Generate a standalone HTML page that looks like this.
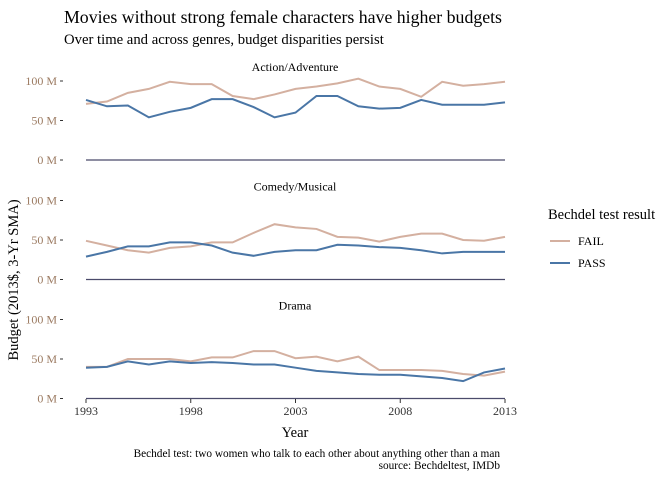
<!DOCTYPE html>
<html><head><meta charset="utf-8"><style>
body{margin:0;background:#fff;}
svg{display:block;font-family:"Liberation Serif",serif;}
</style></head><body>
<svg id="chart" width="672" height="480">
<text x="64" y="23" font-size="17.8" fill="#000">Movies without strong female characters have higher budgets</text>
<text x="64" y="44" font-size="14.7" fill="#000">Over time and across genres, budget disparities persist</text>
<g id="panels"></g>
<text transform="translate(18,280) rotate(-90)" text-anchor="middle" font-size="14.5">Budget (2013$, 3-Yr SMA)</text>
<text x="295" y="437" text-anchor="middle" font-size="14.5">Year</text>
<g>
<text x="548" y="219" font-size="14.5">Bechdel test result</text>
<line x1="550" y1="241" x2="570" y2="241" stroke="#d4b0a0" stroke-width="2"/>
<text x="578" y="245" font-size="12">FAIL</text>
<line x1="550" y1="263" x2="570" y2="263" stroke="#4a76a6" stroke-width="2"/>
<text x="578" y="267" font-size="12">PASS</text>
</g>
<text x="500" y="457" text-anchor="end" font-size="11.3">Bechdel test: two women who talk to each other about anything other than a man</text>
<text x="500" y="469" text-anchor="end" font-size="11.3">source: Bechdeltest, IMDb</text>
</svg>
<script>
const years=[1993,1994,1995,1996,1997,1998,1999,2000,2001,2002,2003,2004,2005,2006,2007,2008,2009,2010,2011,2012,2013];
const genres=["Action/Adventure","Comedy/Musical","Drama"];
const yTicks=[0,50,100];
const yTickLabels=["0 M","50 M","100 M"];
const xTicks=[1993,1998,2003,2008,2013];
const failAction=[71,74,85,90,99,96,96,81,77,83,90,93,97,103,93,90,80,99,94,96,99];
const passAction=[76,68,69,54,61,66,77,77,67,54,60,81,81,68,65,66,76,70,70,70,73];
const failComedy=[49,43,37,34,40,42,47,47,59,70,66,64,54,53,48,54,58,58,50,49,54];
const passComedy=[29,35,42,42,47,47,43,34,30,35,37,37,44,43,41,40,37,33,35,35,35];
const failDrama=[40,40,50,50,50,47,52,52,60,60,51,53,47,53,36,36,36,35,31,29,34];
const passDrama=[39,40,47,43,47,45,46,45,43,43,39,35,33,31,30,30,28,26,22,33,38];
const failSeries=[failAction,failComedy,failDrama];
const passSeries=[passAction,passComedy,passDrama];
const zeroY=[160,279.5,398.5];
const ns="http://www.w3.org/2000/svg";
const g=document.getElementById('panels');
const x=v=>86+(v-1993)*(505-86)/20;
const yScale=(p,v)=>zeroY[p]-v*0.79;
function mk(tag,attrs,parent){const e=document.createElementNS(ns,tag);for(const k in attrs)e.setAttribute(k,attrs[k]);parent.appendChild(e);return e;}
genres.forEach((gn,p)=>{
  const t=mk('text',{x:295,y:zeroY[p]-89,'text-anchor':'middle','font-size':12},g);
  t.textContent=gn;
  
  
  yTicks.forEach((v,i)=>{
    const yy=yScale(p,v);
    const l=mk('text',{x:57,y:yy+4,'text-anchor':'end','font-size':12,fill:'#9c7b62'},g);
    l.textContent=yTickLabels[i];
    
    
    const tk=mk('line',{x1:60,x2:63,y1:yy,y2:yy,stroke:'#333'},g);
    
    
  });
  const zl=mk('line',{x1:x(1993),x2:x(2013),y1:zeroY[p],y2:zeroY[p],stroke:'#4b4b6b','stroke-width':1.2},g);
  
  
  [[failSeries[p],'#d4b0a0','fail-line'],[passSeries[p],'#4a76a6','pass-line']].forEach(([s,c,n])=>{
    const pts=s.map((v,i)=>x(years[i])+','+yScale(p,v)).join(' ');
    const pl=mk('polyline',{points:pts,fill:'none',stroke:c,'stroke-width':2},g);
    
    
  });
});
xTicks.forEach(v=>{
  const tk=mk('line',{x1:x(v),x2:x(v),y1:399,y2:403,stroke:'#333'},g);
  
  
  const l=mk('text',{x:x(v),y:415,'text-anchor':'middle','font-size':12,fill:'#333'},g);
  l.textContent=v;
  
  
});
</script>
</body></html>
